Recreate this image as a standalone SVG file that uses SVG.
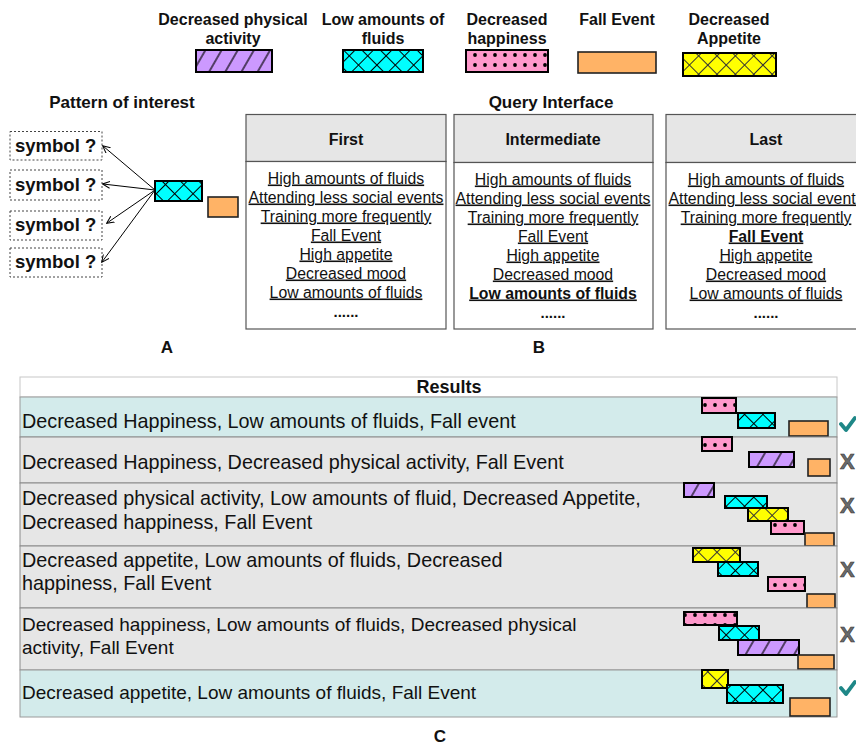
<svg xmlns="http://www.w3.org/2000/svg" width="856" height="745" viewBox="0 0 856 745">
<style>
text{font-family:"Liberation Sans",Arial,sans-serif;fill:#111}
.lg{font-size:16px;font-weight:bold;text-anchor:middle}
.ttl{font-size:17px;font-weight:bold;text-anchor:middle}
.sym{font-size:18.5px;font-weight:bold}
.hd{font-size:16px;font-weight:bold;text-anchor:middle}
.it{font-size:15.8px;text-anchor:middle;text-decoration:underline}
.itb{font-size:15.8px;font-weight:bold;text-anchor:middle;text-decoration:underline}
.dots{font-size:15px;font-weight:bold;text-anchor:middle}
.res{font-size:19.8px}
.res2{font-size:19px}
.mk{font-size:22px;font-weight:bold;fill:#6b6b6b;stroke:#3a3a3a;stroke-width:0.6}
.pur{fill:url(#pPurple);stroke:#000;stroke-width:2}
.cya{fill:url(#pCyan);stroke:#000;stroke-width:2}
.pnk{fill:url(#pPink);stroke:#000;stroke-width:2}
.yel{fill:url(#pYellow);stroke:#000;stroke-width:2}
.org{fill:#FFB366;stroke:#222;stroke-width:1.6}
.dash{fill:#fff;stroke:#444;stroke-width:1;stroke-dasharray:2 2}
.phd{fill:#E6E6E6;stroke:#555;stroke-width:1.2}
.pbd{fill:#fff;stroke:#555;stroke-width:1.2}
.rc{fill:#D3EBEB;stroke:#9a9a9a;stroke-width:1}
.rg{fill:#E6E6E6;stroke:#8a8a8a;stroke-width:1}
.chk{fill:none;stroke:#1E8787;stroke-width:3.8;stroke-linecap:round;stroke-linejoin:round}
.arr{stroke:#000;stroke-width:1;fill:none;marker-end:url(#ah)}
</style>
<defs>
<pattern id="pPurple" patternUnits="userSpaceOnUse" width="14" height="14" patternTransform="rotate(30)">
<rect width="14" height="14" fill="#CC99FF"/>
<line x1="7" y1="0" x2="7" y2="14" stroke="#000" stroke-width="1.2"/>
</pattern>
<pattern id="pCyan" patternUnits="userSpaceOnUse" width="13" height="13" patternTransform="rotate(45)">
<rect width="13" height="13" fill="#00FFFF"/>
<path d="M0,0.5H13M0.5,0V13" stroke="#000" stroke-width="1"/>
</pattern>
<pattern id="pYellow" patternUnits="userSpaceOnUse" width="13" height="13" patternTransform="rotate(45)">
<rect width="13" height="13" fill="#FFFF00"/>
<path d="M0,0.5H13M0.5,0V13" stroke="#333" stroke-width="1"/>
</pattern>
<pattern id="pPink" patternUnits="userSpaceOnUse" width="10" height="10">
<rect width="10" height="10" fill="#FF99CC"/>
<circle cx="5" cy="5" r="1.9" fill="#000"/>
</pattern>
<marker id="ah" viewBox="0 0 8 8" refX="7" refY="4" markerWidth="8" markerHeight="8" orient="auto" markerUnits="userSpaceOnUse">
<path d="M0,0.5L7.5,4L0,7.5" fill="none" stroke="#000" stroke-width="1"/>
</marker>
</defs>

<g id="legend">
<g id="leg-physical"><text class="lg" x="233" y="25">Decreased physical</text><text class="lg" x="233" y="44">activity</text><rect class="pur" x="196" y="50" width="76" height="22"/></g>
<g id="leg-fluids"><text class="lg" x="383" y="25">Low amounts of</text><text class="lg" x="383" y="44">fluids</text><rect class="cya" x="343" y="50" width="80" height="22"/></g>
<g id="leg-happiness"><text class="lg" x="507" y="25">Decreased</text><text class="lg" x="507" y="44">happiness</text><rect class="pnk" x="466" y="50" width="82" height="22"/></g>
<g id="leg-fall"><text class="lg" x="617" y="25">Fall Event</text><rect class="org" x="578" y="52" width="78" height="21"/></g>
<g id="leg-appetite"><text class="lg" x="729" y="25">Decreased</text><text class="lg" x="729" y="44">Appetite</text><rect class="yel" x="683" y="53" width="93" height="23"/></g>
</g>

<g id="panelA">
<text class="ttl" x="122" y="108">Pattern of interest</text>
<g id="sym1"><rect class="dash" x="10" y="131.5" width="92" height="28.5"/><text class="sym" x="15" y="152">symbol ?</text></g>
<g id="sym2"><rect class="dash" x="10" y="170" width="92" height="30"/><text class="sym" x="15" y="190.5">symbol ?</text></g>
<g id="sym3"><rect class="dash" x="10" y="211" width="92" height="29"/><text class="sym" x="15" y="231">symbol ?</text></g>
<g id="sym4"><rect class="dash" x="10" y="248" width="92" height="29"/><text class="sym" x="15" y="268">symbol ?</text></g>
<g id="patFluids"><rect class="cya" x="155" y="181" width="47" height="20"/></g>
<g id="patFall"><rect class="org" x="208" y="197" width="30" height="20"/></g>
<text class="ttl" x="167" y="353">A</text>
</g>

<g id="connectors">
<line class="arr" x1="155" y1="190" x2="103" y2="146"/>
<line class="arr" x1="155" y1="190" x2="103" y2="184"/>
<line class="arr" x1="155" y1="190" x2="107" y2="223"/>
<line class="arr" x1="155" y1="190" x2="102" y2="262"/>
</g>

<g id="panelB">
<text class="ttl" x="551" y="108">Query Interface</text>
<g id="qFirst">
<rect class="phd" x="246" y="114.5" width="200" height="47"/>
<rect class="pbd" x="246" y="161.5" width="200" height="167.5"/>
<text class="hd" x="346" y="145">First</text>
<text class="it" x="346" y="183.5">High amounts of fluids</text>
<text class="it" x="346" y="202.5">Attending less social events</text>
<text class="it" x="346" y="221.5">Training more frequently</text>
<text class="it" x="346" y="240.5">Fall Event</text>
<text class="it" x="346" y="259.5">High appetite</text>
<text class="it" x="346" y="278.5">Decreased mood</text>
<text class="it" x="346" y="297.5">Low amounts of fluids</text>
<text class="dots" x="346" y="316.5">......</text>
</g>
<g id="qIntermediate">
<rect class="phd" x="454" y="114.5" width="199" height="48"/>
<rect class="pbd" x="454" y="162.5" width="199" height="166.5"/>
<text class="hd" x="553" y="145">Intermediate</text>
<text class="it" x="553" y="184.5">High amounts of fluids</text>
<text class="it" x="553" y="203.5">Attending less social events</text>
<text class="it" x="553" y="222.5">Training more frequently</text>
<text class="it" x="553" y="241.5">Fall Event</text>
<text class="it" x="553" y="260.5">High appetite</text>
<text class="it" x="553" y="279.5">Decreased mood</text>
<text class="itb" x="553" y="298.5">Low amounts of fluids</text>
<text class="dots" x="553" y="317.5">......</text>
</g>
<g id="qLast">
<rect class="phd" x="666" y="114.5" width="200" height="48"/>
<rect class="pbd" x="666" y="162.5" width="200" height="166.5"/>
<text class="hd" x="766" y="145">Last</text>
<text class="it" x="766" y="184.5">High amounts of fluids</text>
<text class="it" x="766" y="203.5">Attending less social events</text>
<text class="it" x="766" y="222.5">Training more frequently</text>
<text class="itb" x="766" y="241.5">Fall Event</text>
<text class="it" x="766" y="260.5">High appetite</text>
<text class="it" x="766" y="279.5">Decreased mood</text>
<text class="it" x="766" y="298.5">Low amounts of fluids</text>
<text class="dots" x="766" y="317.5">......</text>
</g>
<text class="ttl" x="539" y="353">B</text>
</g>

<g id="panelC">
<rect x="20" y="377" width="817" height="20" fill="#fff" stroke="#c8c8c8" stroke-width="1"/>
<text x="449" y="393" style="font-size:18px;font-weight:bold;text-anchor:middle">Results</text>

<g id="row1">
<rect class="rc" x="20" y="397" width="817" height="40"/>
<text class="res" x="22" y="428">Decreased Happiness, Low amounts of fluids, Fall event</text>
<rect class="pnk" x="702" y="398" width="34" height="15"/>
<rect class="cya" x="738" y="413" width="37" height="15"/>
<rect class="org" x="789" y="421" width="39" height="15"/>
<path class="chk" d="M841,424L846,430L855,418"/>
</g>
<g id="row2">
<rect class="rg" x="20" y="437" width="817" height="46"/>
<text class="res" x="22" y="469">Decreased Happiness, Decreased physical activity, Fall Event</text>
<rect class="pnk" x="702" y="437" width="30" height="14"/>
<rect class="pur" x="749" y="452" width="45" height="15"/>
<rect class="org" x="808" y="459" width="22" height="17"/>
<text class="mk" x="840" y="469">X</text>
</g>
<g id="row3">
<rect class="rg" x="20" y="483" width="817" height="63"/>
<text class="res" x="22" y="505">Decreased physical activity, Low amounts of fluid, Decreased Appetite,</text>
<text class="res" x="22" y="529">Decreased happiness, Fall Event</text>
<rect class="pur" x="684" y="483" width="30" height="14"/>
<rect class="cya" x="725" y="496" width="42" height="12"/>
<rect class="yel" x="748" y="508" width="40" height="13"/>
<rect class="pnk" x="771" y="521" width="33" height="13"/>
<rect class="org" x="805" y="533" width="29" height="13"/>
<text class="mk" x="840" y="513">X</text>
</g>
<g id="row4">
<rect class="rg" x="20" y="546" width="817" height="62"/>
<text class="res" x="22" y="567">Decreased appetite, Low amounts of fluids, Decreased</text>
<text class="res" x="22" y="590">happiness, Fall Event</text>
<rect class="yel" x="693" y="548" width="47" height="14"/>
<rect class="cya" x="718" y="562" width="40" height="14"/>
<rect class="pnk" x="768" y="577" width="37" height="14"/>
<rect class="org" x="807" y="594" width="28" height="14"/>
<text class="mk" x="840" y="577">X</text>
</g>
<g id="row5">
<rect class="rg" x="20" y="608" width="817" height="62"/>
<text class="res2" x="22" y="631">Decreased happiness, Low amounts of fluids, Decreased physical</text>
<text class="res2" x="22" y="654">activity, Fall Event</text>
<rect class="pnk" x="684" y="612" width="53" height="13"/>
<rect class="cya" x="719" y="626" width="40" height="14"/>
<rect class="pur" x="738" y="640" width="61" height="15"/>
<rect class="org" x="798" y="655" width="36" height="14"/>
<text class="mk" x="840" y="642">X</text>
</g>
<g id="row6">
<rect class="rc" x="20" y="670" width="817" height="47"/>
<text class="res2" x="22" y="699">Decreased appetite, Low amounts of fluids, Fall Event</text>
<rect class="yel" x="702" y="670" width="26" height="18"/>
<rect class="cya" x="727" y="685" width="56" height="18"/>
<rect class="org" x="790" y="698" width="40" height="18"/>
<path class="chk" d="M841,688L846,694L855,682"/>
</g>
<text class="ttl" x="440" y="742">C</text>
</g>
</svg>
